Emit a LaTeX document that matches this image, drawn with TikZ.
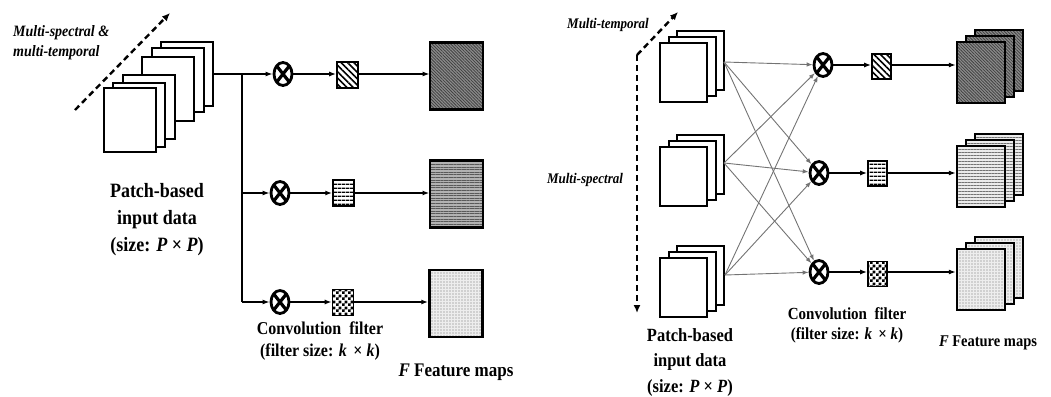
\documentclass[tikz,border=0pt]{standalone}
\usepackage{fontspec}
\setmainfont{Liberation Serif}
\usetikzlibrary{arrows.meta,patterns,patterns.meta,shapes.geometric,calc}

\pgfdeclarepatternformonly{checkthree}{\pgfpointorigin}{\pgfpoint{6pt}{6pt}}{\pgfpoint{6pt}{6pt}}{%
 \pgfpathrectangle{\pgfpointorigin}{\pgfpoint{3pt}{3pt}}%
 \pgfpathrectangle{\pgfpoint{3pt}{3pt}}{\pgfpoint{3pt}{3pt}}%
 \pgfusepath{fill}}

\begin{document}
\begin{tikzpicture}[x=1pt,y=-1pt,
 frame/.style={draw, line width=2pt, fill=white, inner sep=0, minimum width=52pt, minimum height=64pt},
 rframe/.style={draw, line width=2pt, fill=white, inner sep=0, minimum width=47pt, minimum height=59pt},
 mult/.style={draw, ellipse, line width=2.8pt, fill=white, inner sep=0, minimum width=18pt, minimum height=23pt,
   path picture={\draw[line width=3.2pt] (path picture bounding box.south west)--(path picture bounding box.north east)
   (path picture bounding box.north west)--(path picture bounding box.south east);}},
 filt/.style={draw, line width=1.6pt, inner sep=0, minimum width=21pt, minimum height=26pt},
 fhatch/.style={filt, pattern={Lines[angle=-45,distance=4.5pt,line width=1.6pt]}},
 fhor/.style={filt, pattern={Lines[angle=0,distance=4pt,line width=1.5pt]}},
 fcheck/.style={filt, pattern=checkthree},
 fmap/.style={draw, line width=2.5pt, inner sep=0, minimum width=53pt, minimum height=67pt},
 rmap/.style={draw, line width=2.3pt, inner sep=0, minimum width=48pt, minimum height=61pt},
 mapA/.style={preaction={fill=black!45}, pattern={Lines[angle=-45,distance=2.2pt,line width=0.8pt]}, pattern color=black!75},
 mapB/.style={preaction={fill=black!30}, pattern={Lines[angle=0,distance=2.6pt,line width=1pt]}, pattern color=black!65},
 mapBl/.style={preaction={fill=black!8}, pattern={Lines[angle=0,distance=3pt,line width=1pt]}, pattern color=black!55},
 mapC/.style={preaction={fill=black!7}, pattern={Dots[distance=3pt,radius=0.65pt]}, pattern color=black!55},
 arr/.style={line width=1.6pt, -{Latex[length=7pt,width=5pt]}},
 plain/.style={line width=1.6pt},
 fan/.style={line width=0.9pt, draw=black!55, -{Latex[length=6pt,width=4.5pt]}},
 dsh/.style={line width=2.4pt, dash pattern=on 6pt off 4pt},
 tip/.style={-{Latex[length=8pt,width=7pt]}},
 lab/.style={align=center, inner sep=0, yscale=1.13, transform shape},
]
\useasboundingbox (0,0) rectangle (1051,396);

% ================= LEFT PANEL =================
\coordinate (d1) at (75,110);
\coordinate (d2) at (170,13);
\draw[dsh,tip] (d1) -- (d2);
\node[lab, align=left, anchor=west, font=\bfseries\itshape\fontsize{14}{17.7}\selectfont] (Lms) at (13,43)
  {Multi-spectral \&\\multi-temporal};

\node[frame] (L6) at (187,74) {};
\node[frame] (L5) at (178,80) {};
\node[frame] (L4) at (168,89) {};
\node[frame] (L3) at (149,107) {};
\node[frame] (L2) at (139,115) {};
\node[frame] (L1) at (130,120) {};

\node[lab, font=\bfseries\fontsize{18}{23.9}\selectfont] (Lin) at (157,220)
  {Patch-based\\input data\\(size: \textit{P} × \textit{P})};

\node[mult] (m1) at (283,74) {};
\node[mult] (m2) at (280,193) {};
\node[mult] (m3) at (280,302) {};

\coordinate (J1) at (242,74);
\coordinate (J2) at (242,193);
\coordinate (J3) at (242,302);

\node[fhatch] (f1) at (347.5,75) {};
\node[fhor] (f2) at (343.5,193) {};
\node[fcheck] (f3) at (343,302.5) {};

\node[fmap, mapA] (F1) at (456.5,76) {};
\node[fmap, mapB] (F2) at (456.5,194) {};
\node[fmap, mapC] (F3) at (456,303.5) {};

\draw[arr] (L6.east) -- (m1);
\draw[plain] (J1) -- (J3);
\draw[arr] (J2) -- (m2);
\draw[arr] (J3) -- (m3);
\draw[arr] (m1) -- (m1 -| f1.west);
\draw[arr] (m2) -- (m2 -| f2.west);
\draw[arr] (m3) -- (m3 -| f3.west);
\draw[arr] (f1.east |- m1) -- (m1 -| F1.west);
\draw[arr] (f2.east |- m2) -- (m2 -| F2.west);
\draw[arr] (f3.east |- m3) -- (m3 -| F3.west);

\node[lab, font=\bfseries\fontsize{16}{19.5}\selectfont] (Lconv) at (320,341)
  {Convolution\ \ filter\\(filter size: \textit{k} \,× \textit{k})};
\node[lab, font=\bfseries\fontsize{17}{20}\selectfont] (Lfm) at (456,372)
  {\textit{F} Feature maps};

% ================= RIGHT PANEL =================
\coordinate (r0) at (637,313);
\coordinate (r1) at (637,55);
\coordinate (r2) at (678,12);
\draw[dsh,tip] (r1) -- (r0);
\draw[dsh,tip] (r1) -- (r2);
\node[lab, font=\bfseries\itshape\fontsize{13}{16}\selectfont] (Rmt) at (608,25) {Multi-temporal};
\node[lab, font=\bfseries\itshape\fontsize{13}{16}\selectfont] (Rms) at (585,180) {Multi-spectral};

% input stacks
\node[rframe] (A3) at (700.5,60.5) {};
\node[rframe] (A2) at (692,66.5) {};
\node[rframe] (A1) at (683.5,72.5) {};
\node[rframe] (B3) at (700.5,164.5) {};
\node[rframe] (B2) at (692,170.5) {};
\node[rframe] (B1) at (683.5,176.5) {};
\node[rframe] (C3) at (700.5,275) {};
\node[rframe] (C2) at (692,281) {};
\node[rframe] (C1) at (683.5,287) {};

\coordinate (o1) at (724,62);
\coordinate (o2) at (724,163);
\coordinate (o3) at (725,275);

\node[lab, font=\bfseries\fontsize{16.5}{22.6}\selectfont] (Rin) at (690,362.5)
  {Patch-based\\input data\\(size: \textit{P} × \textit{P})};

\node[mult] (n1) at (823,65) {};
\node[mult] (n2) at (819,173) {};
\node[mult] (n3) at (819,272) {};

\foreach \o in {o1,o2,o3}{
  \foreach \n in {n1,n2,n3}{
    \draw[fan] (\o) -- (\n);
  }
}

\node[fhatch, minimum width=19pt, minimum height=25pt] (g1) at (881.5,66.5) {};
\node[fhor, minimum width=19pt, minimum height=25pt] (g2) at (877.5,173.5) {};
\node[fcheck, minimum width=19pt, minimum height=25pt] (g3) at (877.5,274) {};

% feature map stacks
\node[rmap, mapA] (P3) at (999,60.5) {};
\node[rmap, mapA] (P2) at (990,66.5) {};
\node[rmap, mapA] (P1) at (981,72.5) {};
\node[rmap, mapBl] (Q3) at (999,164.5) {};
\node[rmap, mapBl] (Q2) at (990,170.5) {};
\node[rmap, mapBl] (Q1) at (981,176.5) {};
\node[rmap, mapC] (S3) at (999,267.5) {};
\node[rmap, mapC] (S2) at (990,273.5) {};
\node[rmap, mapC] (S1) at (981,279.5) {};

\draw[arr] (n1) -- (n1 -| g1.west);
\draw[arr] (n2) -- (n2 -| g2.west);
\draw[arr] (n3) -- (n3 -| g3.west);
\draw[arr] (g1.east |- n1) -- (n1 -| P1.west);
\draw[arr] (g2.east |- n2) -- (n2 -| Q1.west);
\draw[arr] (g3.east |- n3) -- (n3 -| S1.west);

\node[lab, font=\bfseries\fontsize{15}{17.7}\selectfont] (Rconv) at (847,325)
  {Convolution\ \ filter\\(filter size: \textit{k} \,× \textit{k})};
\node[lab, font=\bfseries\fontsize{14.5}{18}\selectfont] (Rfm) at (988,343)
  {\textit{F} Feature maps};
\end{tikzpicture}
\end{document}
